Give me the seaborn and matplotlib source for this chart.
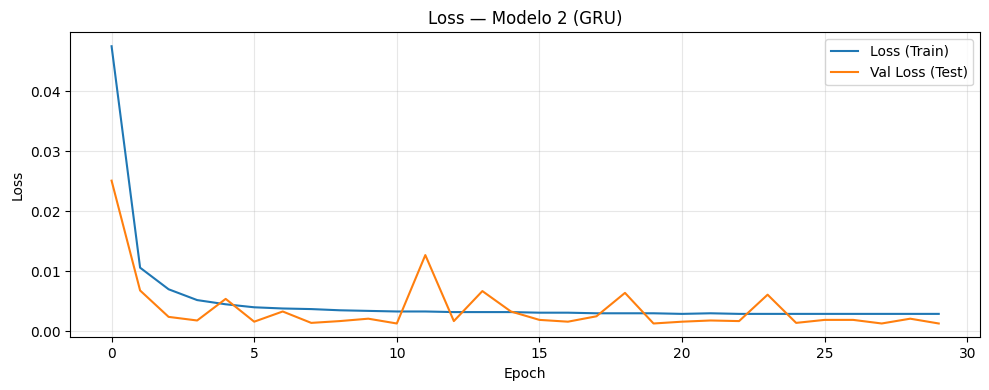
import matplotlib
matplotlib.use("Agg")
import matplotlib.pyplot as plt
import seaborn as sns

epochs = list(range(30))
train_loss = [0.0475, 0.0106, 0.0070, 0.0052, 0.0045, 0.0040, 0.0038, 0.0037, 0.0035, 0.0034,
              0.0033, 0.0033, 0.0032, 0.0032, 0.0032, 0.0031, 0.0031, 0.0030, 0.0030, 0.0030,
              0.0029, 0.0030, 0.0029, 0.0029, 0.0029, 0.0029, 0.0029, 0.0029, 0.0029, 0.0029]
val_loss = [0.0251, 0.0068, 0.0024, 0.0018, 0.0054, 0.0016, 0.0033, 0.0014, 0.0017, 0.0021,
            0.0013, 0.0127, 0.0017, 0.0067, 0.0033, 0.0019, 0.0016, 0.0025, 0.0064, 0.0013,
            0.0016, 0.0018, 0.0017, 0.0061, 0.0014, 0.0019, 0.0019, 0.0013, 0.0021, 0.0013]

fig, ax = plt.subplots(figsize=(9.89, 3.9), dpi=100)
sns.lineplot(x=epochs, y=train_loss, label="Loss (Train)", color="#1f77b4", ax=ax)
sns.lineplot(x=epochs, y=val_loss, label="Val Loss (Test)", color="#ff7f0e", ax=ax)
ax.set_title("Loss — Modelo 2 (GRU)")
ax.set_xlabel("Epoch")
ax.set_ylabel("Loss")
ax.grid(True, alpha=0.3)
ax.legend(loc="upper right")
fig.subplots_adjust(left=0.071, right=0.991, top=0.917, bottom=0.135)
plt.savefig("out.png")
